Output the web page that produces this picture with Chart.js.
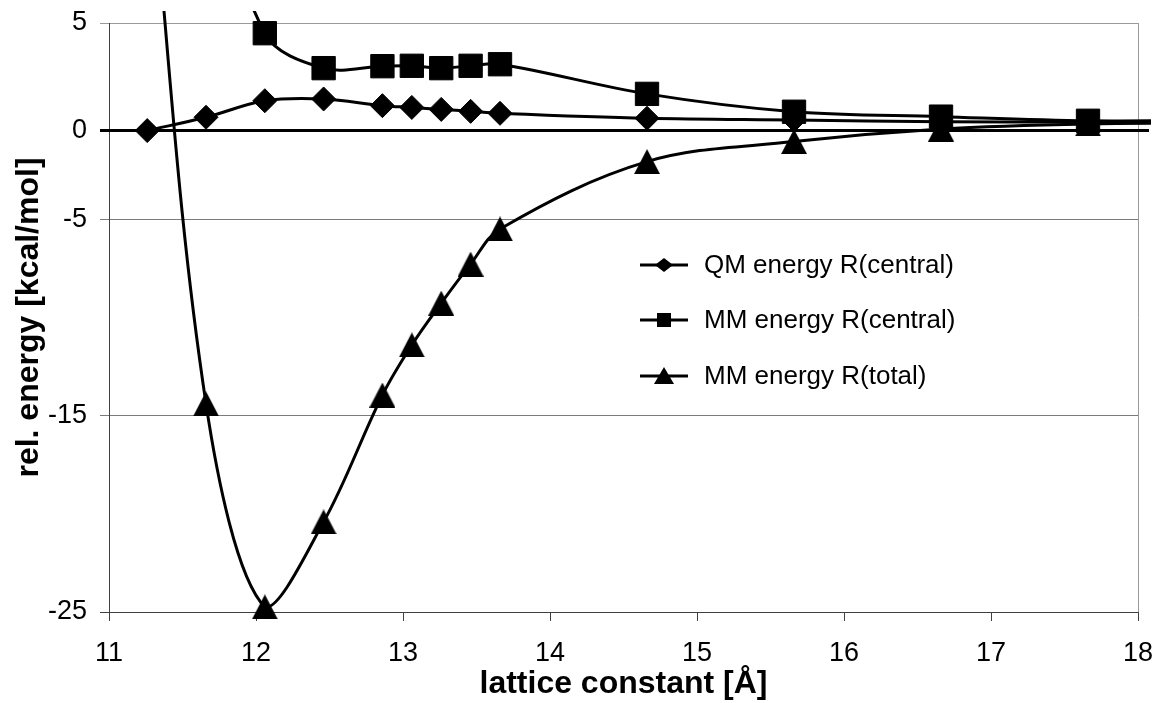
<!DOCTYPE html>
<html>
<head>
<meta charset="utf-8">
<script src="https://cdn.jsdelivr.net/npm/chart.js@4.4.1/dist/chart.umd.min.js"></script>
<style>
  html, body { margin: 0; padding: 0; background: #fff; }
  #wrap { width: 1156px; height: 703px; }
</style>
</head>
<body>
<div id="wrap"><canvas id="chart" width="1156" height="703"></canvas></div>
<script>
// Lattice constants (Å) at which the energies were computed
const latticeConstants = [11.26, 11.66, 12.06, 12.46, 12.86, 13.06, 13.26, 13.46, 13.66, 14.66, 15.66, 16.66, 17.66, 18.66];
// Relative energies (kcal/mol)
const qmCentral = [-0.48, 0.20, 1.04, 1.13, 0.79, 0.70, 0.60, 0.50, 0.40, 0.15, 0.06, -0.03, -0.04, -0.04];
const mmCentral = [null, 14.0, 4.48, 2.70, 2.80, 2.82, 2.70, 2.82, 2.90, 1.39, 0.48, 0.23, 0.02, 0.05];
const mmTotal   = [15.0, -14.4, -24.74, -20.41, -13.95, -11.40, -9.27, -7.28, -5.49, -2.06, -1.04, -0.40, -0.14, -0.10];

const seriesNames = ['QM energy R(central)', 'MM energy R(central)', 'MM energy R(total)'];

// Axis ticks
const xTickValues = [11, 12, 13, 14, 15, 16, 17, 18];
const zeroLineLevel = -0.48;
const yTickValues = [5, zeroLineLevel, -5, -15, -25];
const yTickLabels = ['5', '0', '-5', '-15', '-25'];

const toPoints = (ys) => latticeConstants.map((x, i) => ({ x: x, y: ys[i] }));

// Triangle marker centred in its box
function triangleMarker(w, h) {
  const c = document.createElement('canvas');
  c.width = w; c.height = h;
  const g = c.getContext('2d');
  g.fillStyle = '#000';
  g.beginPath();
  g.moveTo(w / 2, 0);
  g.lineTo(w, h);
  g.lineTo(0, h);
  g.closePath();
  g.fill();
  return c;
}
const triangleImg = triangleMarker(26, 25);

const lineClip = { left: 10, top: 12, right: 13, bottom: 10 };

const baseDataset = {
  showLine: true,
  borderColor: '#000',
  backgroundColor: '#000',
  borderWidth: 3,
  tension: 0.35,
  pointBorderColor: '#000',
  pointBackgroundColor: '#000',
  pointBorderWidth: 1,
  clip: lineClip,
  spanGaps: false
};

// Horizontal zero line and plot frame
const framePlugin = {
  id: 'frame',
  beforeDatasetsDraw(chart) {
    const { ctx, chartArea } = chart;
    const y = chart.scales.y.getPixelForValue(zeroLineLevel);
    ctx.save();
    ctx.strokeStyle = '#9a9a9a';
    ctx.lineWidth = 1;
    ctx.beginPath();
    ctx.moveTo(chartArea.right + 0.5, chartArea.top);
    ctx.lineTo(chartArea.right + 0.5, chartArea.bottom);
    ctx.stroke();
    ctx.strokeStyle = '#000';
    ctx.lineWidth = 3;
    ctx.beginPath();
    ctx.moveTo(chartArea.left - 9, y);
    ctx.lineTo(chartArea.right + 11, y);
    ctx.stroke();
    ctx.restore();
  }
};

// Series key drawn inside the plot
const keyPlugin = {
  id: 'seriesKey',
  afterDatasetsDraw(chart) {
    const ctx = chart.ctx;
    const x0 = 640, x1 = 688, xm = 664, textX = 704;
    const rows = [265, 320, 376];
    ctx.save();
    ctx.fillStyle = '#000';
    ctx.strokeStyle = '#000';
    ctx.lineWidth = 3;
    ctx.font = '26px "Liberation Sans", Arial, sans-serif';
    ctx.textBaseline = 'middle';
    ctx.textAlign = 'left';
    rows.forEach((ry, i) => {
      ctx.beginPath();
      ctx.moveTo(x0, ry);
      ctx.lineTo(x1, ry);
      ctx.stroke();
      ctx.beginPath();
      if (i === 0) {
        ctx.moveTo(xm - 9, ry); ctx.lineTo(xm, ry - 7); ctx.lineTo(xm + 9, ry); ctx.lineTo(xm, ry + 7);
      } else if (i === 1) {
        ctx.rect(xm - 7, ry - 7, 14, 14);
      } else {
        ctx.moveTo(xm, ry - 9); ctx.lineTo(xm + 10, ry + 8); ctx.lineTo(xm - 10, ry + 8);
      }
      ctx.closePath();
      ctx.fill();
      ctx.fillText(seriesNames[i], textX, ry + 1);
    });
    ctx.restore();
  }
};

new Chart(document.getElementById('chart'), {
  type: 'scatter',
  data: {
    datasets: [
      Object.assign({}, baseDataset, {
        label: seriesNames[0],
        data: toPoints(qmCentral),
        pointStyle: 'rectRot',
        pointRadius: 12
      }),
      Object.assign({}, baseDataset, {
        label: seriesNames[1],
        data: toPoints(mmCentral),
        pointStyle: 'rect',
        pointRadius: 16.5
      }),
      Object.assign({}, baseDataset, {
        label: seriesNames[2],
        data: toPoints(mmTotal),
        pointStyle: triangleImg,
        pointRadius: 13
      })
    ]
  },
  options: {
    responsive: false,
    animation: false,
    devicePixelRatio: 1,
    layout: { padding: { top: 23, right: 18, left: 0, bottom: 0 } },
    plugins: {
      legend: { display: false },
      tooltip: { enabled: false }
    },
    scales: {
      x: {
        type: 'linear',
        min: 11,
        max: 18,
        afterBuildTicks: (s) => { s.ticks = xTickValues.map(v => ({ value: v })); },
        afterFit: (s) => { s.height = 91; s.paddingLeft = 0; s.paddingRight = 0; },
        ticks: {
          color: '#000',
          padding: 16,
          font: { family: '"Liberation Sans", Arial, sans-serif', size: 27 },
          callback: (v) => String(v)
        },
        grid: { drawOnChartArea: false, drawTicks: true, tickLength: 9, color: '#404040' },
        border: { color: '#404040', width: 1 },
        title: {
          display: true,
          text: 'lattice constant [Å]',
          color: '#000',
          font: { family: '"Liberation Sans", Arial, sans-serif', size: 32, weight: 'bold' },
          padding: { top: 0, bottom: 0 }
        }
      },
      y: {
        type: 'linear',
        min: -25,
        max: 5,
        afterBuildTicks: (s) => { s.ticks = yTickValues.map(v => ({ value: v })); },
        afterFit: (s) => { s.width = 109; s.paddingTop = 0; s.paddingBottom = 0; },
        ticks: {
          color: '#000',
          padding: 13,
          font: { family: '"Liberation Sans", Arial, sans-serif', size: 27 },
          callback: (v) => yTickLabels[yTickValues.indexOf(v)]
        },
        grid: {
          drawTicks: true,
          tickLength: 9,
          color: (c) => (c.tick && c.tick.value === -25 ? '#404040' : (c.tick && c.tick.value === 5 ? '#9a9a9a' : '#7a7a7a'))
        },
        border: { color: '#404040', width: 1 },
        title: {
          display: true,
          text: 'rel. energy [kcal/mol]',
          color: '#000',
          font: { family: '"Liberation Sans", Arial, sans-serif', size: 32, weight: 'bold' },
          padding: { top: 10, bottom: 0 }
        }
      }
    }
  },
  plugins: [framePlugin, keyPlugin]
});
</script>
</body>
</html>
